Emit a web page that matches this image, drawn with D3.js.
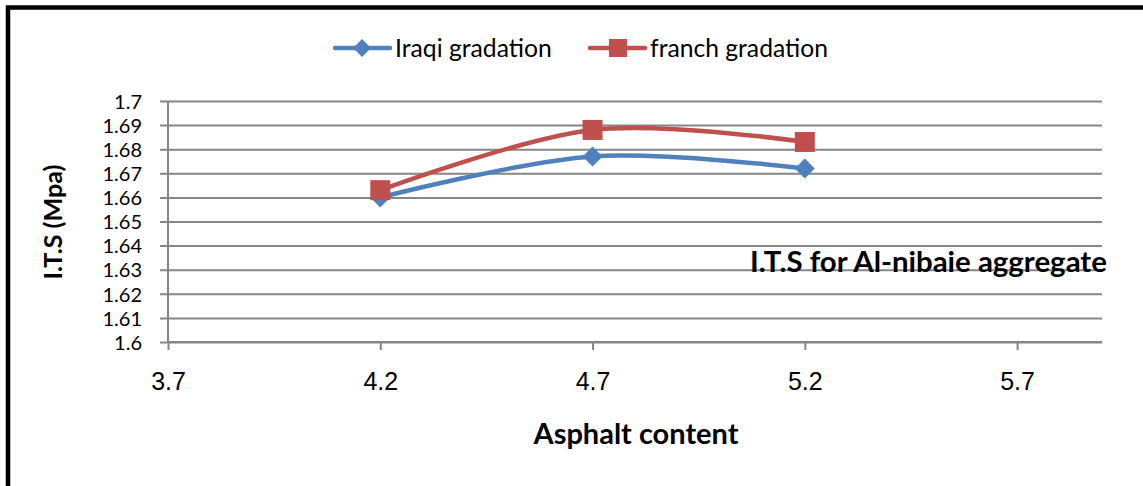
<!DOCTYPE html>
<html>
<head>
<meta charset="utf-8">
<script src="https://cdn.jsdelivr.net/npm/d3@7"></script>
<style>
html,body{margin:0;padding:0;background:#fff;}
svg{display:block;}
</style>
</head>
<body>
<svg id="chart" width="1143" height="486"></svg>
<script>
// ---- data ----
const asphaltContent = [4.2, 4.7, 5.2];
const iraqiValues = [1.660, 1.677, 1.672];
const frenchValues = [1.663, 1.688, 1.683];
const seriesNames = ["Iraqi gradation", "franch gradation"];
const xTickValues = [3.7, 4.2, 4.7, 5.2, 5.7];
const yTickValues = [1.6, 1.61, 1.62, 1.63, 1.64, 1.65, 1.66, 1.67, 1.68, 1.69, 1.7];
const chartTitle = "I.T.S for Al-nibaie aggregate";
const xTitle = "Asphalt content";
const yTitle = "I.T.S (Mpa)";

// ---- layout ----
const svg = d3.select("#chart");
const W = 1143, H = 486;
const plot = {left: 168, right: 1102, top: 101, bottom: 342};
const colors = ["#4F81BD", "#C0504D"];
const gridColor = "#868686";
const sansC = "Lato, 'Noto Sans', sans-serif";

svg.append("rect").attr("width", W).attr("height", H).attr("fill", "#fff");
// outer border (left + top visible)
svg.append("rect").attr("x", 8).attr("y", 7.5).attr("width", W + 20).attr("height", H + 20)
  .attr("fill", "none").attr("stroke", "#000").attr("stroke-width", 4.5);

const x = d3.scaleLinear().domain([3.7, 5.9]).range([plot.left, plot.right]);
const y = d3.scaleLinear().domain([1.6, 1.7]).range([plot.bottom, plot.top]);

// gridlines / y axis
const yAxis = d3.axisLeft(y).tickValues(yTickValues)
  .tickSize(-(plot.right - plot.left)).tickSizeOuter(0).tickPadding(18)
  .tickFormat(d => d3.format("")(+d.toFixed(2)));
const gy = svg.append("g").attr("transform", `translate(${plot.left},0)`).call(yAxis);
gy.select(".domain").remove();
gy.selectAll(".tick line").attr("stroke", gridColor).attr("stroke-width", 2)
  .attr("x1", -8);
gy.selectAll(".tick text").attr("font-family", sansC).attr("font-size", 20).attr("fill", "#000")
  .attr("x", -26).attr("dy", "0.36em");
svg.append("line").attr("x1", plot.left).attr("x2", plot.left)
  .attr("y1", plot.top).attr("y2", plot.bottom)
  .attr("stroke", gridColor).attr("stroke-width", 2);

// x axis
const xAxis = d3.axisBottom(x).tickValues(xTickValues).tickSize(8).tickSizeOuter(0).tickPadding(22)
  .tickFormat(d3.format(".1f"));
const gx = svg.append("g").attr("transform", `translate(0,${plot.bottom})`).call(xAxis);
gx.select(".domain").attr("stroke", gridColor).attr("stroke-width", 2)
  .attr("d", `M${plot.left},0H${plot.right}`);
gx.selectAll(".tick line").attr("stroke", gridColor).attr("stroke-width", 2);
gx.selectAll(".tick text").attr("font-family", "'Liberation Sans', Arial, sans-serif")
  .attr("font-size", 25).attr("fill", "#000");

// lines
const allSeries = [iraqiValues, frenchValues];
const line = d3.line().x(d => x(d[0])).y(d => y(d[1])).curve(d3.curveCardinal.tension(0));
const diamond = s => `M0,${-s}L${s},0L0,${s}L${-s},0Z`;
allSeries.forEach((vals, i) => {
  const pts = asphaltContent.map((a, j) => [a, vals[j]]);
  const g = svg.append("g");
  g.append("path").attr("d", line(pts)).attr("fill", "none")
    .attr("stroke", colors[i]).attr("stroke-width", 4.5).attr("stroke-linecap", "round");
  pts.forEach(p => {
    if (i === 0) {
      g.append("path").attr("d", diamond(10)).attr("transform", `translate(${x(p[0])},${y(p[1])})`)
        .attr("fill", colors[i]);
    } else {
      g.append("rect").attr("x", x(p[0]) - 10).attr("y", y(p[1]) - 10)
        .attr("width", 20).attr("height", 20).attr("fill", colors[i]);
    }
  });
});

// legend
const legendItems = [
  {lx1: 335, lx2: 390, mx: 362, tx: 395, tw: 157},
  {lx1: 590, lx2: 645, mx: 618, tx: 650, tw: 178}
];
const ly = 48;
function fitText(sel, targetW) {
  const w = sel.node().getComputedTextLength();
  const fs = parseFloat(sel.attr("font-size"));
  sel.attr("font-size", fs * targetW / w);
}
legendItems.forEach((L, i) => {
  svg.append("line").attr("x1", L.lx1).attr("x2", L.lx2).attr("y1", ly).attr("y2", ly)
    .attr("stroke", colors[i]).attr("stroke-width", 4.5).attr("stroke-linecap", "round");
  if (i === 0) {
    svg.append("path").attr("d", diamond(9)).attr("transform", `translate(${L.mx},${ly})`).attr("fill", colors[i]);
  } else {
    svg.append("rect").attr("x", L.mx - 9).attr("y", ly - 9).attr("width", 18).attr("height", 18).attr("fill", colors[i]);
  }
  const t = svg.append("text").attr("x", L.tx).attr("y", ly).attr("dy", "0.35em")
    .attr("font-family", sansC).attr("font-size", 22).attr("fill", "#000").text(seriesNames[i]);
  fitText(t, L.tw);
});

// chart title inside plot
const tt = svg.append("text").attr("x", 750).attr("y", 272)
  .attr("font-family", sansC).attr("font-weight", "bold").attr("font-size", 24).attr("fill", "#000")
  .text(chartTitle);
fitText(tt, 357);

// axis titles
const xt = svg.append("text").attr("x", 636).attr("y", 444).attr("text-anchor", "middle")
  .attr("font-family", sansC).attr("font-weight", "bold").attr("font-size", 24).attr("fill", "#000")
  .text(xTitle);
fitText(xt, 205);
const yt = svg.append("text").attr("transform", "translate(62,222) rotate(-90)").attr("text-anchor", "middle")
  .attr("font-family", sansC).attr("font-weight", "bold").attr("font-size", 20).attr("fill", "#000")
  .text(yTitle);
fitText(yt, 115);
</script>
</body>
</html>
